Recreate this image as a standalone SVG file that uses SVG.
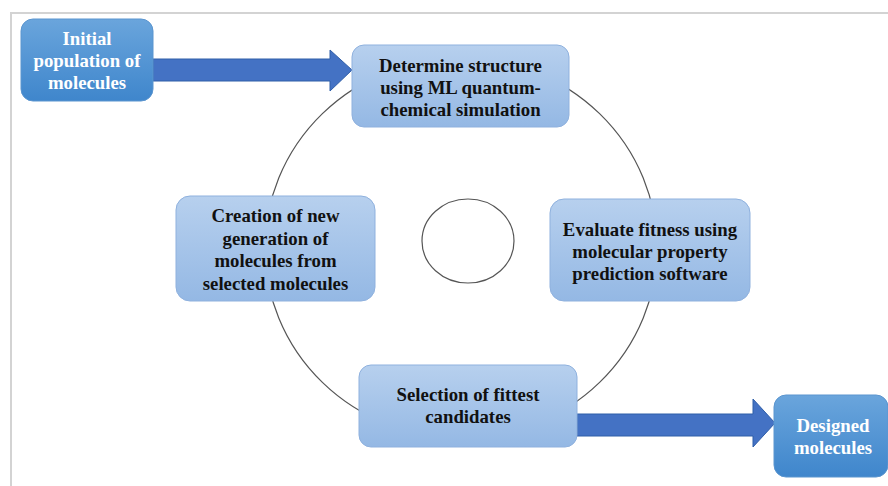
<svg xmlns="http://www.w3.org/2000/svg" width="888" height="486" viewBox="0 0 888 486">
  <defs>
    <linearGradient id="gDark" x1="0" y1="0" x2="0" y2="1">
      <stop offset="0" stop-color="#6aa5dc"/>
      <stop offset="1" stop-color="#3f86cc"/>
    </linearGradient>
    <linearGradient id="gLight" x1="0" y1="0" x2="0" y2="1">
      <stop offset="0" stop-color="#b7d0ee"/>
      <stop offset="1" stop-color="#94b8e4"/>
    </linearGradient>
  </defs>
  <style>
    .dark { fill: url(#gDark); stroke: #5b95cf; stroke-width: 1; }
    .light { fill: url(#gLight); stroke: #8fb1de; stroke-width: 1; }
    .tw { font-family: "Liberation Serif", "Times New Roman", serif; font-weight: bold; font-size: 18.8px; fill: #ffffff; text-anchor: middle; }
    .tb { font-family: "Liberation Serif", "Times New Roman", serif; font-weight: bold; font-size: 18.8px; fill: #111111; text-anchor: middle; }
    .ring { fill: none; stroke: #555555; stroke-width: 1.2; }
    .arrow { fill: #4472c4; stroke: #2f5ea8; stroke-width: 1; }
  </style>

  <rect x="0" y="0" width="888" height="486" fill="#ffffff"/>
  <!-- page frame -->
  <path d="M11 486 V13 H888" fill="none" stroke="#d3d3d3" stroke-width="2"/>

  <g id="connectors">
    <ellipse class="ring" cx="461" cy="248" rx="196" ry="190"/>
    <ellipse class="ring" cx="468" cy="241" rx="46" ry="42"/>
    <path class="arrow" d="M153 59 H330 V50 L352 70 L330 91 V81 H153 Z"/>
    <path class="arrow" d="M577 414 H753 V399 L775 423 L753 447 V436 H577 Z"/>
  </g>

  <g id="initial">
    <rect class="dark" x="21" y="19" width="132" height="82" rx="12"/>
    <text class="tw" x="87" y="45">Initial</text>
    <text class="tw" x="87" y="67">population of</text>
    <text class="tw" x="87" y="89">molecules</text>
  </g>

  <g id="determine">
    <rect class="light" x="352" y="45" width="217" height="82" rx="12"/>
    <text class="tb" x="460.5" y="72">Determine structure</text>
    <text class="tb" x="460.5" y="94">using ML quantum-</text>
    <text class="tb" x="460.5" y="116">chemical simulation</text>
  </g>

  <g id="evaluate">
    <rect class="light" x="550" y="199" width="200" height="102" rx="14"/>
    <text class="tb" x="650" y="236">Evaluate fitness using</text>
    <text class="tb" x="650" y="258">molecular property</text>
    <text class="tb" x="650" y="280">prediction software</text>
  </g>

  <g id="creation">
    <rect class="light" x="176" y="196" width="199" height="105" rx="14"/>
    <text class="tb" x="275.5" y="222">Creation of new</text>
    <text class="tb" x="275.5" y="245">generation of</text>
    <text class="tb" x="275.5" y="267">molecules from</text>
    <text class="tb" x="275.5" y="290">selected molecules</text>
  </g>

  <g id="selection">
    <rect class="light" x="359" y="365" width="218" height="82" rx="12"/>
    <text class="tb" x="468" y="401">Selection of fittest</text>
    <text class="tb" x="468" y="423">candidates</text>
  </g>

  <g id="designed">
    <rect class="dark" x="774" y="395" width="114" height="82" rx="12"/>
    <text class="tw" x="833" y="432">Designed</text>
    <text class="tw" x="833" y="454">molecules</text>
  </g>
</svg>
